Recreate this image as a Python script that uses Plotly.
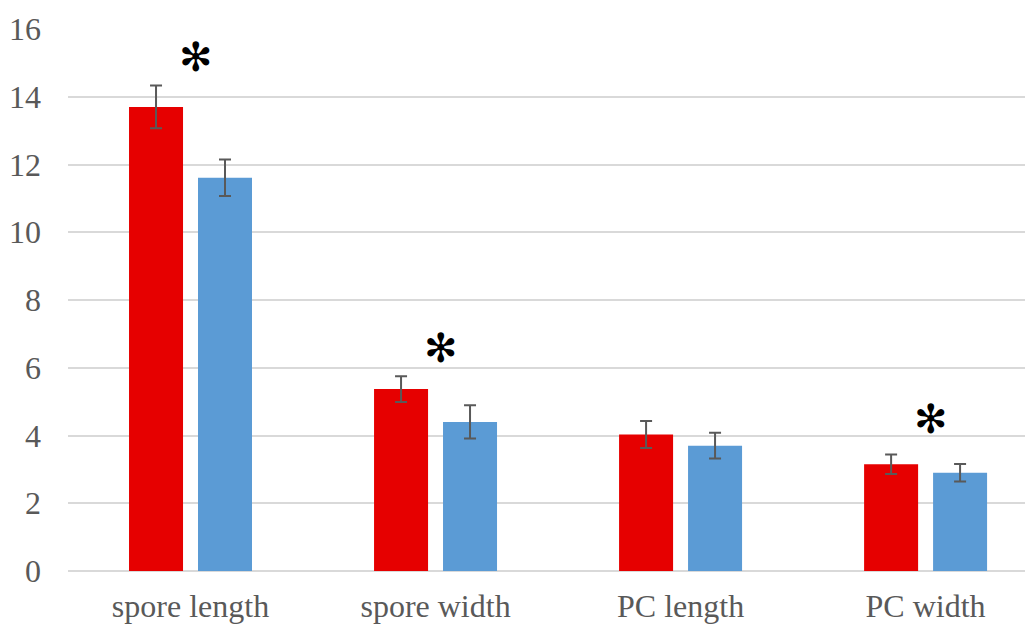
import plotly.graph_objects as go

categories = ["spore length", "spore width", "PC length", "PC width"]
red_values = [13.70, 5.37, 4.03, 3.15]
red_errors = [0.63, 0.38, 0.40, 0.29]
blue_values = [11.61, 4.40, 3.70, 2.90]
blue_errors = [0.54, 0.49, 0.38, 0.26]
star_categories = ["spore length", "spore width", "PC width"]
star_y = [15.17, 6.59, 4.48]
y_ticks = [0, 2, 4, 6, 8, 10, 12, 14, 16]

RED = "#E60000"
BLUE = "#5B9BD5"
ERR = "#595959"

fig = go.Figure()
fig.add_trace(go.Bar(
    x=categories, y=red_values, marker=dict(color=RED, line=dict(width=0)),
    error_y=dict(type="data", array=red_errors, color=ERR, thickness=2, width=6),
    name="red", showlegend=False))
fig.add_trace(go.Bar(
    x=categories, y=blue_values, marker=dict(color=BLUE, line=dict(width=0)),
    error_y=dict(type="data", array=blue_errors, color=ERR, thickness=2, width=6),
    name="blue", showlegend=False))

for c, yv in zip(star_categories, star_y):
    fig.add_annotation(x=c, y=yv, text="✻", showarrow=False, xshift=5,
                       font=dict(family="DejaVu Sans", size=40, color="#000000"),
                       xanchor="center", yanchor="middle")

fig.update_layout(
    width=1033, height=626,
    margin=dict(l=60, r=0, t=21, b=63),
    paper_bgcolor="white", plot_bgcolor="white",
    barmode="group", bargap=0.437, bargroupgap=0.217,
    font=dict(family="Liberation Serif", size=32, color="#595959"),
)
fig.update_xaxes(range=[-0.5, 3.471], showgrid=False, showline=False,
                 automargin=False, ticklabelstandoff=13,
                 ticks="", tickfont=dict(size=32, color="#595959"))
fig.update_yaxes(range=[0, 16], tickvals=y_ticks, showgrid=True,
                 automargin=False,
                 gridcolor="#D9D9D9", gridwidth=1.5, zeroline=True,
                 zerolinecolor="#D9D9D9", zerolinewidth=1.5, showline=False,
                 ticks="", ticklabelstandoff=26,
                 tickfont=dict(size=32, color="#595959"))

fig.write_html("out.html")
